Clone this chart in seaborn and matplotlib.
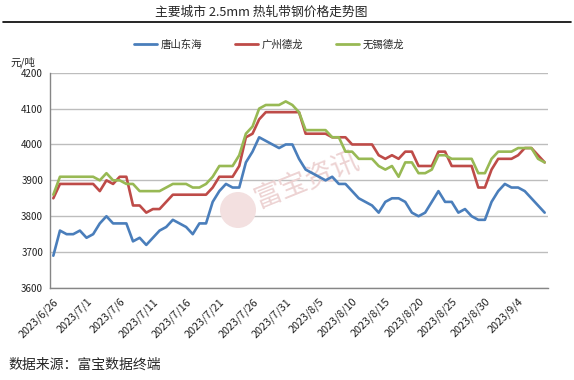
import matplotlib.pyplot as plt
import matplotlib.patches as mpatches
from matplotlib.lines import Line2D
import numpy as np
import pandas as pd
import seaborn as sns

# daily prices, 2023/6/26 - 2023/9/8 (元/吨)
dates = pd.date_range('2023-06-26', '2023-09-08', freq='D')

tangshan = [3690, 3760, 3750, 3750, 3760, 3740, 3750, 3780, 3800, 3780,
            3780, 3780, 3730, 3740, 3720, 3740, 3760, 3770, 3790, 3780,
            3770, 3750, 3780, 3780, 3840, 3870, 3890, 3880, 3880, 3950,
            3980, 4020, 4010, 4000, 3990, 4000, 4000, 3960, 3930, 3920,
            3910, 3900, 3910, 3890, 3890, 3870, 3850, 3840, 3830, 3810,
            3840, 3850, 3850, 3840, 3810, 3800, 3810, 3840, 3870, 3840,
            3840, 3810, 3820, 3800, 3790, 3790, 3840, 3870, 3890, 3880,
            3880, 3870, 3850, 3830, 3810]

guangzhou = [3850, 3890, 3890, 3890, 3890, 3890, 3890, 3870, 3900, 3890,
             3910, 3910, 3830, 3830, 3810, 3820, 3820, 3840, 3860, 3860,
             3860, 3860, 3860, 3860, 3880, 3910, 3910, 3910, 3940, 4020,
             4030, 4070, 4090, 4090, 4090, 4090, 4090, 4090, 4030, 4030,
             4030, 4030, 4020, 4020, 4020, 4000, 4000, 4000, 4000, 3970,
             3960, 3970, 3960, 3980, 3980, 3940, 3940, 3940, 3980, 3980,
             3940, 3940, 3940, 3940, 3880, 3880, 3930, 3960, 3960, 3960,
             3970, 3990, 3990, 3970, 3950]

wuxi = [3860, 3910, 3910, 3910, 3910, 3910, 3910, 3900, 3920, 3900,
        3900, 3890, 3890, 3870, 3870, 3870, 3870, 3880, 3890, 3890,
        3890, 3880, 3880, 3890, 3910, 3940, 3940, 3940, 3970, 4030,
        4050, 4100, 4110, 4110, 4110, 4120, 4110, 4090, 4040, 4040,
        4040, 4040, 4020, 4020, 3980, 3980, 3960, 3960, 3960, 3940,
        3930, 3940, 3910, 3950, 3950, 3920, 3920, 3930, 3970, 3970,
        3960, 3960, 3960, 3960, 3920, 3920, 3960, 3980, 3980, 3980,
        3990, 3990, 3990, 3960, 3950]

series_names = ['唐山东海', '广州德龙', '无锡德龙']
colors = ['#4A7EBB', '#BE4B48', '#98B954']

df = pd.DataFrame({'idx': np.arange(len(dates)),
                   '唐山东海': tangshan, '广州德龙': guangzhou, '无锡德龙': wuxi})
df = df.melt(id_vars='idx', var_name='城市', value_name='价格')

sns.set_style('white')
plt.rcParams['font.family'] = ['Noto Sans CJK SC', 'DejaVu Sans']

fig = plt.figure(figsize=(5.74, 3.80), dpi=100)
ax = fig.add_axes([50 / 574, 1 - 288 / 380, 498 / 574, 215.3 / 380])

sns.lineplot(data=df, x='idx', y='价格', hue='城市', hue_order=series_names,
             palette=dict(zip(series_names, colors)), linewidth=1.9,
             ax=ax, legend=False, zorder=3)

ax.set_xlim(-0.5, len(dates) - 0.5)
ax.set_ylim(3600, 4200)
ax.set_yticks(range(3600, 4201, 100))
ax.grid(axis='y', color='#BDBDBD', linewidth=1.0)
ax.set_axisbelow(True)
ax.set_xlabel('')
ax.set_ylabel('')
for s in ['top', 'right']:
    ax.spines[s].set_visible(False)
for s in ['left', 'bottom']:
    ax.spines[s].set_color('#868686')
    ax.spines[s].set_linewidth(1.0)

# labels every 5 days, tick marks between categories
ax.set_xticks(np.arange(0, len(dates), 5))
ax.set_xticklabels([f'{d.year}/{d.month}/{d.day}' for d in dates[::5]],
                   rotation=45, ha='right', rotation_mode='anchor',
                   fontsize=7.8, color='#222222')
ax.set_xticks(np.arange(-0.5, len(dates), 5), minor=True)
ax.tick_params(axis='x', which='major', length=0, pad=6)
ax.tick_params(axis='x', which='minor', length=4, color='#868686', direction='out')
ax.tick_params(axis='y', length=3, color='#868686', labelsize=7, labelcolor='#222222', pad=2)

# watermark
ax.text(307 / 574, 1 - 180 / 380, '富宝资讯', transform=fig.transFigure,
        rotation=22, color='#EDD3D3', fontsize=20, ha='center', va='center', zorder=1)
ax.add_patch(mpatches.Ellipse((238 / 574, 1 - 210 / 380), 36 / 574, 36 / 380,
                              transform=fig.transFigure, facecolor='#F3E0E0',
                              edgecolor='none', zorder=1, clip_on=False))

# title and rule
fig.text(261 / 574, 1 - 12 / 380, '主要城市 2.5mm 热轧带钢价格走势图',
         ha='center', va='center', fontsize=9.2)
fig.add_artist(Line2D([3 / 574, 571 / 574], [1 - 22 / 380] * 2, color='black', lw=1.2))

handles = [Line2D([], [], color=c, lw=2.0) for c in colors]
fig.legend(handles, series_names, loc='center', bbox_to_anchor=(269 / 574, 1 - 45 / 380),
           ncol=3, frameon=False, fontsize=7.5, handlelength=2.2, handletextpad=0.3,
           columnspacing=3.2)

fig.text(10 / 574, 1 - 62 / 380, '元/吨', fontsize=7.5, va='center', color='#222222')
fig.text(8 / 574, 1 - 365 / 380, '数据来源：富宝数据终端', fontsize=10, va='center')

fig.savefig('out.png', dpi=100)
